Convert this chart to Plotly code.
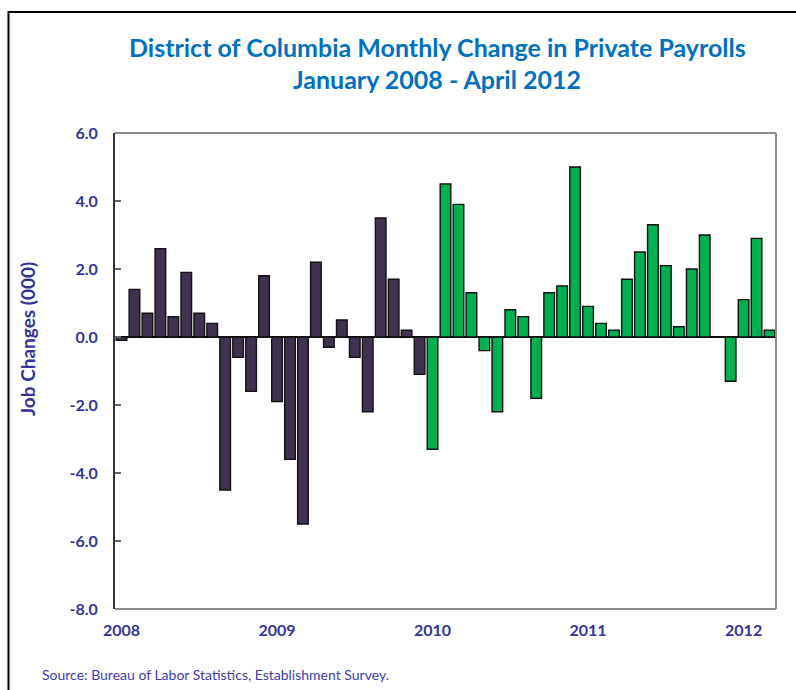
import plotly.graph_objects as go

months = [f"{y}-{m:02d}" for y in range(2008, 2013) for m in range(1, 13)][:51]
values = [
    -0.1, 1.4, 0.7, 2.6, 0.6, 1.9, 0.7, 0.4, -4.5, -0.6, -1.6, 1.8,   # 2008
    -1.9, -3.6, -5.5, 2.2, -0.3, 0.5, -0.6, -2.2, 3.5, 1.7, 0.2, -1.1,  # 2009
    -3.3, 4.5, 3.9, 1.3, -0.4, -2.2, 0.8, 0.6, -1.8, 1.3, 1.5, 5.0,   # 2010
    0.9, 0.4, 0.2, 1.7, 2.5, 3.3, 2.1, 0.3, 2.0, 3.0, 0.0, -1.3,      # 2011
    1.1, 2.9, 0.2,                                                    # 2012
]
year_ticks = [0, 12, 24, 36, 48]
year_labels = ["2008", "2009", "2010", "2011", "2012"]
y_ticks = [6, 4, 2, 0, -2, -4, -6, -8]
y_labels = ["6.0", "4.0", "2.0", "0.0", "-2.0", "-4.0", "-6.0", "-8.0"]

PURPLE = "#403151"
GREEN = "#00B050"
NAVY = "#333399"
colors = [PURPLE if m < "2010" else GREEN for m in months]
x = list(range(len(months)))

fig = go.Figure(go.Bar(
    x=x, y=values,
    marker=dict(color=colors, line=dict(color="#111111", width=1.4)),
    hovertext=months,
))

W, H = 796, 690
L, R, T, B = 115, 20, 133, 81
pw = W - L - R
ph = H - T - B

def px(xp):
    return (xp - L) / pw

def py(yp):
    return (H - B - yp) / ph

fig.update_layout(
    width=W, height=H,
    margin=dict(l=L, r=R, t=T, b=B),
    paper_bgcolor="white", plot_bgcolor="white",
    bargap=0.18,
    showlegend=False,
    font=dict(family="Lato, Open Sans, sans-serif"),
)
fig.update_xaxes(
    range=[-0.5, len(months) - 0.5],
    tickmode="array", tickvals=year_ticks, ticktext=year_labels,
    ticks="", showgrid=False, zeroline=False, showline=False,
    tickfont=dict(size=16, color=NAVY, weight="bold"),
    ticklabelstandoff=10,
)
fig.update_yaxes(
    range=[-8, 6],
    tickmode="array", tickvals=y_ticks, ticktext=y_labels,
    ticks="inside", ticklen=6, tickcolor="#666666", tickwidth=1.5,
    showgrid=False,
    zeroline=True, zerolinecolor="#000000", zerolinewidth=1.5,
    showline=True, linecolor="#333333", linewidth=2,
    tickfont=dict(size=16, color=NAVY, weight="bold"),
    ticklabelstandoff=12,
)

shapes = [
    dict(type="line", xref="paper", yref="paper", x0=0, x1=1, y0=1, y1=1, line=dict(color="#8C8C8C", width=2)),
    dict(type="line", xref="paper", yref="paper", x0=1, x1=1, y0=0, y1=1, line=dict(color="#8C8C8C", width=2)),
    dict(type="line", xref="paper", yref="paper", x0=0, x1=1, y0=0, y1=0, line=dict(color="#8C8C8C", width=2)),
    dict(type="rect", xref="paper", yref="paper", x0=px(8.5), x1=px(830), y0=py(740), y1=py(12),
         line=dict(color="#000000", width=2), fillcolor="rgba(0,0,0,0)", layer="below"),
]
fig.update_layout(shapes=shapes)

annotations = [
    dict(text="District of Columbia Monthly Change in Private Payrolls", xref="paper", yref="paper",
         x=px(437), y=py(47), xanchor="center", yanchor="middle", showarrow=False,
         font=dict(size=25, color="#0070C0", weight="bold")),
    dict(text="January 2008 - April 2012", xref="paper", yref="paper",
         x=px(437), y=py(79), xanchor="center", yanchor="middle", showarrow=False,
         font=dict(size=25, color="#0070C0", weight="bold")),
    dict(text="Job Changes (000)", xref="paper", yref="paper", textangle=-90,
         x=px(27), y=py(339), xanchor="center", yanchor="middle", showarrow=False,
         font=dict(size=19, color=NAVY, weight="bold")),
    dict(text="Source: Bureau of Labor Statistics, Establishment Survey.", xref="paper", yref="paper",
         x=px(40), y=py(674), xanchor="left", yanchor="middle", showarrow=False,
         font=dict(size=14, color="#3B3BB0")),
]
fig.update_layout(annotations=annotations)

fig.write_html("out.html", config={"displayModeBar": False},
               post_script="document.body.style.margin='0';document.body.style.padding='0';")
